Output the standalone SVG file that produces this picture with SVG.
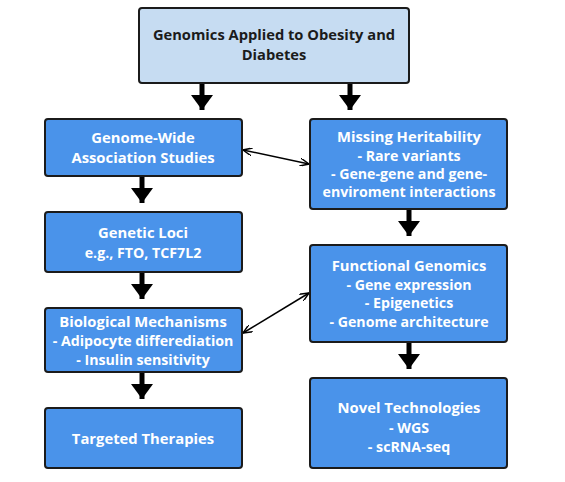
<svg xmlns="http://www.w3.org/2000/svg" width="565" height="482" viewBox="0 0 565 482">
<defs>
<style>
.box{fill:#4a93ea;stroke:#1b1b1b;stroke-width:2}
.top{fill:#c6dcf2;stroke:#1b1b1b;stroke-width:2}
.t{font-family:"Open Sans","Liberation Sans",sans-serif;font-weight:bold;font-size:14.2px;fill:#ffffff;text-anchor:middle}
.h{font-size:14.8px}
.tt{font-family:"Open Sans","Liberation Sans",sans-serif;font-weight:bold;font-size:14.7px;fill:#1b1b1b;text-anchor:middle}
.thick{stroke:#000;stroke-width:5;fill:none}
.thin{stroke:#000;stroke-width:1.5;fill:none}
</style>
<marker id="big" markerWidth="5" markerHeight="4.4" refX="3" refY="2.2" orient="auto" markerUnits="strokeWidth"><path d="M0,0 L3,2.2 L0,4.4 z" fill="#000"/></marker>
<marker id="sm" markerWidth="10" markerHeight="8" refX="9" refY="4" orient="auto-start-reverse" markerUnits="userSpaceOnUse"><path d="M0,0 L9,4 L0,8" fill="none" stroke="#000" stroke-width="1.5"/></marker>
</defs>
<rect width="565" height="482" fill="#fff"/>
<g id="connectors">
<line class="thick" x1="202" y1="84" x2="202" y2="110" marker-end="url(#big)"/>
<line class="thick" x1="350" y1="84" x2="350" y2="110" marker-end="url(#big)"/>
<line class="thick" x1="142" y1="177" x2="142" y2="203" marker-end="url(#big)"/>
<line class="thick" x1="142" y1="273" x2="142" y2="299" marker-end="url(#big)"/>
<line class="thick" x1="142" y1="373" x2="142" y2="399" marker-end="url(#big)"/>
<line class="thick" x1="409" y1="210" x2="409" y2="236" marker-end="url(#big)"/>
<line class="thick" x1="409" y1="343" x2="409" y2="369" marker-end="url(#big)"/>
<line class="thin" x1="243" y1="150" x2="309" y2="164" marker-start="url(#sm)" marker-end="url(#sm)"/>
<line class="thin" x1="243" y1="333" x2="309" y2="293" marker-start="url(#sm)" marker-end="url(#sm)"/>
</g>
<g id="n-top">
<rect class="top" x="139" y="8" width="270" height="75" rx="3"/>
<text class="tt" x="274" y="40">Genomics Applied to Obesity and</text>
<text class="tt" x="274" y="60">Diabetes</text>
</g>
<g id="n-gwas">
<rect class="box" x="45" y="119" width="197" height="57" rx="3"/>
<text class="t h" x="143" y="143">Genome-Wide</text>
<text class="t h" x="143" y="163">Association Studies</text>
</g>
<g id="n-loci">
<rect class="box" x="45" y="212" width="197" height="60" rx="3"/>
<text class="t h" x="143" y="238">Genetic Loci</text>
<text class="t" x="143" y="258">e.g., FTO, TCF7L2</text>
</g>
<g id="n-bio">
<rect class="box" x="45" y="308" width="197" height="64" rx="3"/>
<text class="t h" x="143" y="327">Biological Mechanisms</text>
<text class="t" x="143" y="346">- Adipocyte differediation</text>
<text class="t" x="143" y="365">- Insulin sensitivity</text>
</g>
<g id="n-targeted">
<rect class="box" x="45" y="408" width="197" height="60" rx="3"/>
<text class="t h" x="143" y="444">Targeted Therapies</text>
</g>
<g id="n-missing">
<rect class="box" x="310" y="119" width="197" height="90" rx="3"/>
<text class="t h" x="409" y="142">Missing Heritability</text>
<text class="t" x="409" y="161">- Rare variants</text>
<text class="t" x="409" y="179">- Gene-gene and gene-</text>
<text class="t" x="409" y="197">enviroment interactions</text>
</g>
<g id="n-functional">
<rect class="box" x="310" y="245" width="197" height="97" rx="3"/>
<text class="t h" x="409" y="271">Functional Genomics</text>
<text class="t" x="409" y="290">- Gene expression</text>
<text class="t" x="409" y="308">- Epigenetics</text>
<text class="t" x="409" y="327">- Genome architecture</text>
</g>
<g id="n-novel">
<rect class="box" x="310" y="378" width="197" height="90" rx="3"/>
<text class="t h" x="409" y="413">Novel Technologies</text>
<text class="t" x="409" y="433">- WGS</text>
<text class="t" x="409" y="452">- scRNA-seq</text>
</g>
</svg>
